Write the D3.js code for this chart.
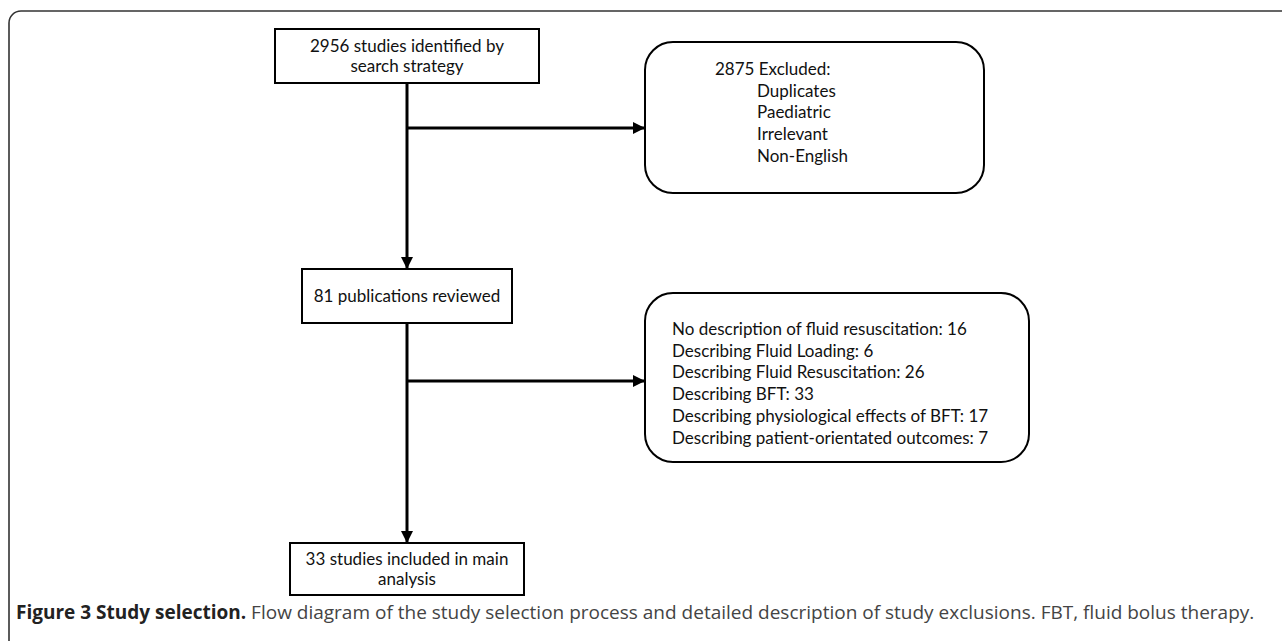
<!DOCTYPE html>
<html lang="en">
<head>
<meta charset="UTF-8">
<title>Study selection flow diagram</title>
<script src="https://d3js.org/d3.v7.min.js"></script>
<style>
  body { margin: 0; background: #fff; }
  .box-text { font-family: Lato, "Open Sans", sans-serif; font-size: 17px; fill: #111; }
  .caption { font-family: "Open Sans", sans-serif; font-size: 19px; fill: #444; }
  .caption .bold { font-weight: 700; fill: #222; }
</style>
</head>
<body>
<svg id="diagram"></svg>
<script>
  // valores do diagrama
  const stageCounts = [2956, 81, 33];
  const stageLabels = [
    ["studies identified by", "search strategy"],
    ["publications reviewed"],
    ["studies included in main", "analysis"]
  ];
  const excludedCount = 2875;
  const excludedReasons = ["Duplicates", "Paediatric", "Irrelevant", "Non-English"];
  const reviewCategories = [
    "No description of fluid resuscitation",
    "Describing Fluid Loading",
    "Describing Fluid Resuscitation",
    "Describing BFT",
    "Describing physiological effects of BFT",
    "Describing patient-orientated outcomes"
  ];
  const reviewCounts = [16, 6, 26, 33, 17, 7];
  const captionBold = "Figure 3 Study selection.";
  const captionText = " Flow diagram of the study selection process and detailed description of study exclusions. FBT, fluid bolus therapy.";

  const largura = 1282, altura = 641;
  const svg = d3.select("#diagram").attr("width", largura).attr("height", altura);

  // moldura externa (cortada à direita e em baixo)
  svg.append("rect")
    .attr("x", 9).attr("y", 11)
    .attr("width", 1300).attr("height", 700)
    .attr("rx", 12)
    .attr("fill", "none").attr("stroke", "#333").attr("stroke-width", 1.6);

  // ponta de seta
  svg.append("defs").append("marker")
    .attr("id", "seta")
    .attr("viewBox", "0 0 10 10")
    .attr("refX", 10).attr("refY", 5)
    .attr("markerWidth", 4.5).attr("markerHeight", 4)
    .attr("markerUnits", "strokeWidth")
    .attr("orient", "auto")
    .append("path").attr("d", "M0,0 L10,5 L0,10 z").attr("fill", "#000");

  // caixas principais: x central comum, alturas diferentes
  const centroX = 407;
  const caixas = [
    { y0: 29, y1: 83, w: 264 },
    { y0: 269, y1: 323, w: 210 },
    { y0: 543, y1: 595, w: 234 }
  ];
  const linhaAltura = 20;

  caixas.forEach((c, i) => {
    svg.append("rect")
      .attr("x", centroX - c.w / 2).attr("y", c.y0)
      .attr("width", c.w).attr("height", c.y1 - c.y0)
      .attr("fill", "#fff").attr("stroke", "#000").attr("stroke-width", 2);

    const linhas = stageLabels[i].map((t, j) => j === 0 ? stageCounts[i] + " " + t : t);
    const meio = (c.y0 + c.y1) / 2;
    const inicio = meio - (linhas.length - 1) * linhaAltura / 2;
    svg.append("text").attr("class", "box-text")
      .attr("text-anchor", "middle")
      .selectAll("tspan").data(linhas).enter().append("tspan")
      .attr("x", centroX)
      .attr("y", (d, j) => inicio + j * linhaAltura)
      .attr("dy", "0.35em")
      .text(d => d);
  });

  // caixas arredondadas de exclusão
  const excl = [
    { x0: 645, x1: 984, y0: 42, y1: 193, setaY: 128 },
    { x0: 645, x1: 1029, y0: 293, y1: 462, setaY: 381 }
  ];
  excl.forEach(e => {
    svg.append("rect")
      .attr("x", e.x0).attr("y", e.y0)
      .attr("width", e.x1 - e.x0).attr("height", e.y1 - e.y0)
      .attr("rx", 28)
      .attr("fill", "#fff").attr("stroke", "#000").attr("stroke-width", 2);
  });

  const passo = 21.7;
  const txt1 = svg.append("text").attr("class", "box-text");
  txt1.append("tspan").attr("x", 715).attr("y", 75).text(excludedCount + " Excluded:");
  txt1.selectAll(".motivo").data(excludedReasons).enter().append("tspan")
    .attr("class", "motivo")
    .attr("x", 757)
    .attr("y", (d, i) => 75 + (i + 1) * passo)
    .text(d => d);

  const txt2 = svg.append("text").attr("class", "box-text");
  txt2.selectAll("tspan").data(reviewCategories).enter().append("tspan")
    .attr("x", 672)
    .attr("y", (d, i) => 335 + i * passo)
    .text((d, i) => d + ": " + reviewCounts[i]);

  // setas
  const setas = [
    [centroX, caixas[0].y1, centroX, caixas[1].y0],
    [centroX, caixas[1].y1, centroX, caixas[2].y0],
    [centroX, excl[0].setaY, excl[0].x0, excl[0].setaY],
    [centroX, excl[1].setaY, excl[1].x0, excl[1].setaY]
  ];
  svg.selectAll(".seta").data(setas).enter().append("line")
    .attr("class", "seta")
    .attr("x1", d => d[0]).attr("y1", d => d[1])
    .attr("x2", d => d[2]).attr("y2", d => d[3])
    .attr("stroke", "#000").attr("stroke-width", 3)
    .attr("marker-end", "url(#seta)");

  // legenda da figura
  const leg = svg.append("text").attr("class", "caption").attr("x", 16).attr("y", 619);
  leg.append("tspan").attr("class", "bold").text(captionBold);
  leg.append("tspan").text(captionText);
</script>
</body>
</html>
